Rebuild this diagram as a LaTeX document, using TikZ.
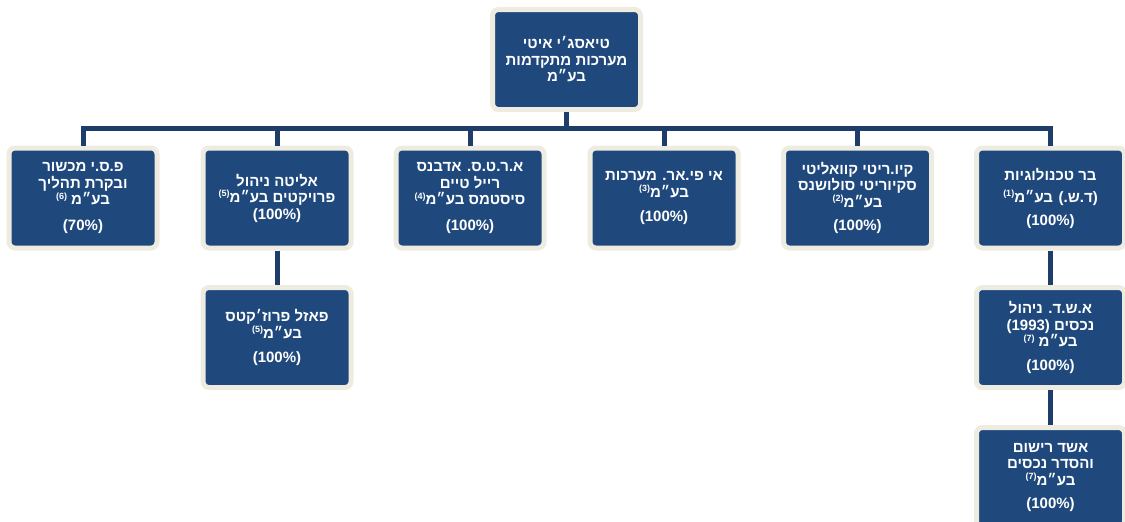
\documentclass[tikz,border=0pt]{standalone}
\usepackage{xcolor}
\usepackage{fontspec}
\usepackage{tikz}
\usetikzlibrary{positioning}
\TeXXeTstate=1
\newfontfamily\hebfont[Script=Hebrew]{Liberation Sans}
\definecolor{unitblue}{HTML}{1F497D}
\definecolor{unitrim}{HTML}{EEECE1}
\definecolor{linkblue}{HTML}{1F3D6B}
\newcommand{\ann}[1]{\raisebox{.7ex}{\fontsize{9}{9}\selectfont(#1)}}

\begin{document}
\begin{tikzpicture}[x=1pt, y=-1pt, unit/.style={rectangle, rounded corners=6pt, draw=unitrim, line width=5pt, fill=unitblue, text=white, minimum width=148pt, minimum height=100pt, inner sep=2pt, align=center, font=\hebfont\bfseries\fontsize{15}{16.5}\selectfont}, link/.style={draw=linkblue, line width=5pt}]
						\useasboundingbox (0,0) rectangle (1125,522);
						\clip (0,0) rectangle (1125,522);
						
						% top
						\node[unit] (top) at (566.5,59.5) {\beginR טיאסג׳י איטי\endR\\ \beginR מערכות מתקדמות\endR\\ \beginR בע״מ\endR};
						
						% second row
						\node[unit] (psi) at (83,198) {\beginR פ.ס.י מכשור\endR\\ \beginR ובקרת תהליך\endR\\ \beginR בע״מ \ann{6}\endR\\[9pt] (70\%)};
						\node[unit] (elita) at (277,198) {\beginR אליטה ניהול\endR\\ \beginR פרויקטים בע״מ\ann{5}\endR\\ (100\%)};
						\node[unit] (arts) at (470,198) {\beginR א.ר.ט.ס. אדבנס\endR\\ \beginR רייל טיים\endR\\ \beginR סיסטמס בע״מ\ann{4}\endR\\[9pt] (100\%)};
						\node[unit] (ipr) at (664,198) {\beginR אי פי.אר. מערכות\endR\\ \beginR בע״מ\ann{3}\endR\\[8pt] (100\%)};
						\node[unit] (qrity) at (857.5,198) {\beginR קיו.ריטי קוואליטי\endR\\ \beginR סקיוריטי סולושנס\endR\\ \beginR בע״מ\ann{2}\endR\\[7pt] (100\%)};
						\node[unit] (bar) at (1050.5,198) {\beginR בר טכנולוגיות\endR\\[6pt] \beginR (ד.ש.) בע״מ\ann{1}\endR\\[6pt] (100\%)};
						
						% third row
						\node[unit] (puzzle) at (277,337.5) {\beginR פאזל פרוז׳קטס\endR\\ \beginR בע״מ\ann{5}\endR\\[8pt] (100\%)};
						\node[unit] (ashd) at (1050.5,337.5) {\beginR א.ש.ד. ניהול\endR\\ \beginR נכסים (1993)\endR\\ \beginR בע״מ \ann{7}\endR\\[7pt] (100\%)};
						
						% fourth row
						\node[unit] (rishum) at (1050.5,477.5) {\beginR אשד רישום\endR\\ \beginR והסדר נכסים\endR\\ \beginR בע״מ\ann{7}\endR\\[7pt] (100\%)};
						
						% connectors
						\coordinate (rail) at (566.5,128.5);
						\draw[link] (top.south) -- (rail);
						\draw[link] (psi.north) |- (rail) -| (bar.north);
						\draw[link] (elita.north) -- (elita.north |- rail);
						\draw[link] (arts.north) -- (arts.north |- rail);
						\draw[link] (ipr.north) -- (ipr.north |- rail);
						\draw[link] (qrity.north) -- (qrity.north |- rail);
						\draw[link] (elita.south) -- (puzzle.north);
						\draw[link] (bar.south) -- (ashd.north);
						\draw[link] (ashd.south) -- (rishum.north);
					\end{tikzpicture}
\end{document}
